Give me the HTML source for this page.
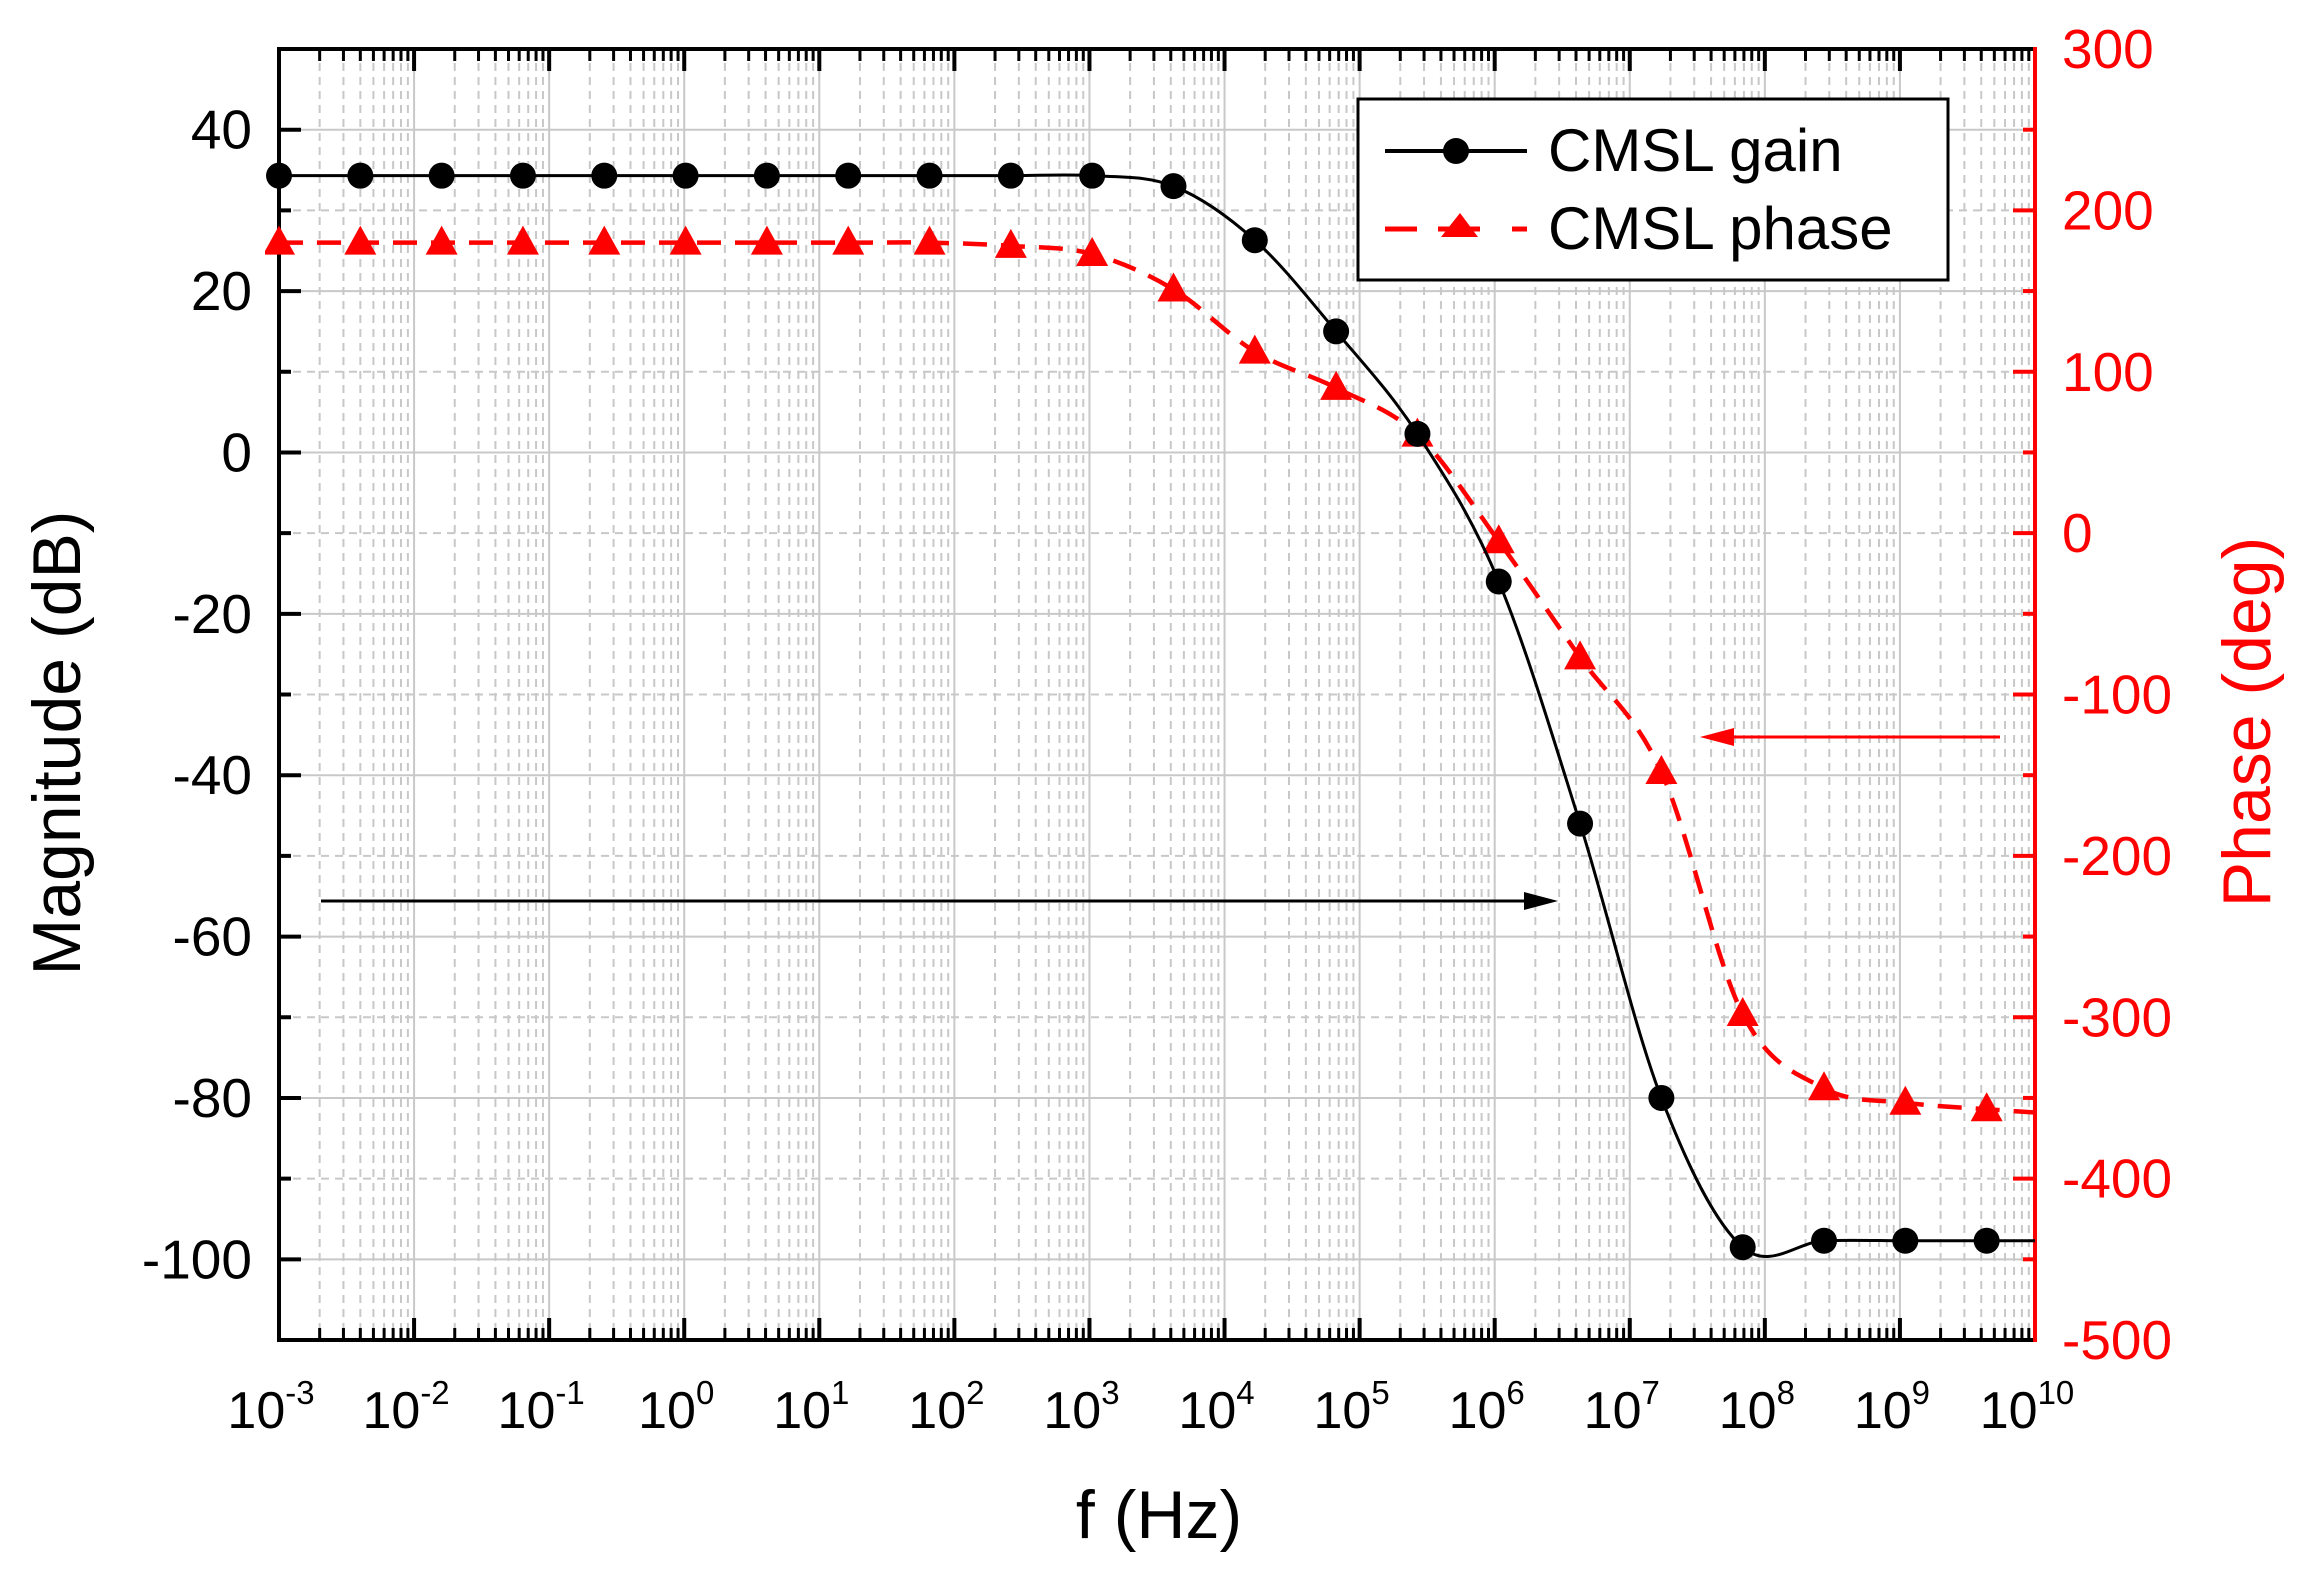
<!DOCTYPE html>
<html><head><meta charset="utf-8"><style>
html,body{margin:0;padding:0;background:#fff;}
svg{display:block;font-family:"Liberation Sans",Arial,sans-serif;}
</style></head><body>
<svg id="chart" width="2297" height="1575" viewBox="0 0 2297 1575" xmlns="http://www.w3.org/2000/svg"></svg>
<script>
// data
const freqExp = [-3,-2.398,-1.796,-1.194,-0.592,0.010,0.612,1.214,1.816,2.418,3.020,3.622,4.224,4.826,5.428,6.030,6.632,7.234,7.836,8.438,9.040,9.642];
const gainDb = [34.3,34.3,34.3,34.3,34.3,34.3,34.3,34.3,34.3,34.3,34.3,33,26.3,15,2.3,-16,-46,-80,-98.5,-97.7,-97.7,-97.7];
const phaseDeg = [180,180,180,180,180,180,180,180,180,178,173,151,112.5,90,61,-5,-77,-148,-298,-344,-353,-357];
const gainEnd = -97.7;
const phaseEnd = -359;
const xTickExp = [-3,-2,-1,0,1,2,3,4,5,6,7,8,9,10];
const yLeftTicks = [40,20,0,-20,-40,-60,-80,-100];
const yRightTicks = [300,200,100,0,-100,-200,-300,-400,-500];

const L=279,R=2035,T=49,B=1340;
const xs=e=>L+(e+3)/13*(R-L);
const yl=v=>B-(v+110)/160*(B-T);
const yr=v=>B-(v+500)/800*(B-T);
const NS='http://www.w3.org/2000/svg';
const svg=document.getElementById('chart');
function mk(tag,attrs,parent){const el=document.createElementNS(NS,tag);for(const k in attrs)el.setAttribute(k,attrs[k]);(parent||svg).appendChild(el);return el;}

// grid
const grid=mk('g',{});


for(let d=-3;d<10;d++){
  for(let m=2;m<=9;m++){const x=xs(d+Math.log10(m));mk('line',{x1:x,x2:x,y1:T,y2:B,stroke:'#c8c8c8','stroke-width':2,'stroke-dasharray':'8 6'},grid);}
  if(d>-3){const x=xs(d);mk('line',{x1:x,x2:x,y1:T,y2:B,stroke:'#c8c8c8','stroke-width':2},grid);}
}
for(let v=-110;v<=50;v+=10){const y=yl(v);if(v===-110||v===50)continue;
  mk('line',{x1:L,x2:R,y1:y,y2:y,stroke:'#c8c8c8','stroke-width':2,'stroke-dasharray':(v%20===0)?'none':'8 6'},grid);}

// ticks
const tk=mk('g',{});


for(let d=-3;d<=10;d++){
  const x=xs(d);
  mk('line',{x1:x,x2:x,y1:B,y2:B-22,stroke:'#000','stroke-width':4},tk);
  mk('line',{x1:x,x2:x,y1:T,y2:T+22,stroke:'#000','stroke-width':4},tk);
  if(d<10)for(let m=2;m<=9;m++){const xm=xs(d+Math.log10(m));
    mk('line',{x1:xm,x2:xm,y1:B,y2:B-12,stroke:'#000','stroke-width':3},tk);
    mk('line',{x1:xm,x2:xm,y1:T,y2:T+12,stroke:'#000','stroke-width':3},tk);}
}
for(let v=-110;v<=50;v+=10){const y=yl(v);mk('line',{x1:L,x2:L+(v%20===0?22:12),y1:y,y2:y,stroke:'#000','stroke-width':4},tk);}
for(let v=-500;v<=300;v+=50){const y=yr(v);mk('line',{x1:R,x2:R-(v%100===0?22:12),y1:y,y2:y,stroke:'#f00','stroke-width':4},tk);}

// axes frame
mk('line',{x1:L,x2:R,y1:T,y2:T,stroke:'#000','stroke-width':4});
mk('line',{x1:L,x2:R,y1:B,y2:B,stroke:'#000','stroke-width':4});
mk('line',{x1:L,x2:L,y1:T-2,y2:B+2,stroke:'#000','stroke-width':4});
const ra=mk('line',{x1:R,x2:R,y1:T-2,y2:B+2,stroke:'#f00','stroke-width':4});



// tick labels
xTickExp.forEach(e=>{
  const t=mk('text',{x:xs(e)-8,y:1428,'font-size':52,'text-anchor':'middle',fill:'#000'});
  
  
  t.textContent='10';
  const s=mk('tspan',{dy:-24,'font-size':33},t);s.textContent=String(e);
});
yLeftTicks.forEach(v=>{
  const t=mk('text',{x:252,y:yl(v)+19,'font-size':55,'text-anchor':'end',fill:'#000'});
  
  
  t.textContent=String(v);
});
yRightTicks.forEach(v=>{
  const t=mk('text',{x:2062,y:yr(v)+19,'font-size':55,'text-anchor':'start',fill:'#f00'});
  
  
  t.textContent=String(v);
});

// axis titles
let t=mk('text',{x:1159,y:1538,'font-size':68,'text-anchor':'middle',fill:'#000'});


t.textContent='f (Hz)';
t=mk('text',{x:0,y:0,'font-size':68,'text-anchor':'middle',fill:'#000',transform:'translate(80,743) rotate(-90)'});


t.textContent='Magnitude (dB)';
t=mk('text',{x:0,y:0,'font-size':68,'text-anchor':'middle',fill:'#f00',transform:'translate(2270,722) rotate(-90)'});


t.textContent='Phase (deg)';

// smooth path
function smooth(pts){
  let d='M'+pts[0][0]+','+pts[0][1];
  for(let i=0;i<pts.length-1;i++){
    const p0=pts[Math.max(0,i-1)],p1=pts[i],p2=pts[i+1],p3=pts[Math.min(pts.length-1,i+2)];
    const c1=[p1[0]+(p2[0]-p0[0])/6,p1[1]+(p2[1]-p0[1])/6];
    const c2=[p2[0]-(p3[0]-p1[0])/6,p2[1]-(p3[1]-p1[1])/6];
    d+=' C'+c1[0]+','+c1[1]+' '+c2[0]+','+c2[1]+' '+p2[0]+','+p2[1];
  }
  return d;
}
const gp=freqExp.map((e,i)=>[xs(e),yl(gainDb[i])]);gp.push([R,yl(gainEnd)]);
const pp=freqExp.map((e,i)=>[xs(e),yr(phaseDeg[i])]);pp.push([R,yr(phaseEnd)]);

const plot=mk('g',{});
const cp=mk('clipPath',{id:'clip'});mk('rect',{x:L-14,y:T,width:R-L+14,height:B-T},cp);
plot.setAttribute('clip-path','url(#clip)');

const phaseLine=mk('path',{d:smooth(pp),fill:'none',stroke:'#f00','stroke-width':4.5,'stroke-dasharray':'24 14'},plot);


freqExp.forEach((e,i)=>{
  const x=xs(e),y=yr(phaseDeg[i]);
  const m=mk('polygon',{points:`${x},${y-17} ${x-16},${y+12} ${x+16},${y+12}`,fill:'#f00'},plot);
  
  
});
const gainLine=mk('path',{d:smooth(gp),fill:'none',stroke:'#000','stroke-width':3},plot);


freqExp.forEach((e,i)=>{
  const m=mk('circle',{cx:xs(e),cy:yl(gainDb[i]),r:13,fill:'#000'},plot);
  
  
});

// arrows
function arrow(x1,x2,y,col,name){
  const g=mk('g',{});
  
  
  const dir=Math.sign(x2-x1);
  mk('line',{x1:x1,x2:x2-dir*20,y1:y,y2:y,stroke:col,'stroke-width':3},g);
  mk('polygon',{points:`${x2},${y} ${x2-dir*34},${y-9} ${x2-dir*34},${y+9}`,fill:col},g);
}
arrow(321,1558,901,'#000','gain-axis-arrow');
arrow(2000,1700,737,'#f00','phase-axis-arrow');

// legend
const lg=mk('g',{});


mk('rect',{x:1358,y:99,width:590,height:181,fill:'#fff',stroke:'#000','stroke-width':3},lg);
const e1=mk('g',{},lg);


mk('line',{x1:1385,x2:1527,y1:151,y2:151,stroke:'#000','stroke-width':4},e1);
mk('circle',{cx:1456,cy:151,r:13,fill:'#000'},e1);
let lt=mk('text',{x:1548,y:171,'font-size':60,fill:'#000'},e1);lt.textContent='CMSL gain';
const e2=mk('g',{},lg);


mk('line',{x1:1385,x2:1417,y1:229,y2:229,stroke:'#f00','stroke-width':5},e2);
mk('line',{x1:1438,x2:1480,y1:229,y2:229,stroke:'#f00','stroke-width':5},e2);
mk('line',{x1:1512,x2:1527,y1:229,y2:229,stroke:'#f00','stroke-width':5},e2);
mk('polygon',{points:'1460,213 1441,237 1478,237',fill:'#f00'},e2);
lt=mk('text',{x:1548,y:249,'font-size':60,fill:'#000'},e2);lt.textContent='CMSL phase';
</script>
</body></html>
